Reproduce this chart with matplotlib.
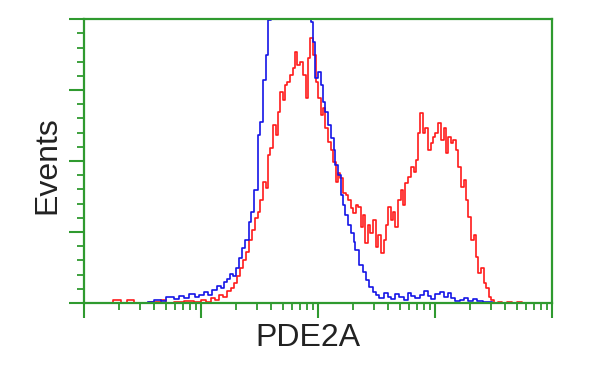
#!/usr/bin/env python
"""Flow cytometry overlay histogram: PDE2A (red) vs isotype/control (blue)."""
import numpy as np
import matplotlib
matplotlib.use("Agg")
import matplotlib.pyplot as plt
from matplotlib.ticker import MultipleLocator, LogLocator, NullFormatter

# histogram channels on a 256-channel, 4-decade log scale (64 channels / decade)
blue_ch = [35, 41, 43, 47, 51, 53, 56, 59, 62, 64, 67, 69, 71, 74, 76, 77, 79, 81, 82,
           84, 86, 87, 89, 91, 92, 94, 96, 97, 99, 100, 101, 103, 105, 107, 109, 112,
           114, 116, 118, 120, 123, 125, 126, 127, 129, 130, 131, 133, 134, 136, 137,
           138, 140, 141, 142, 144, 145, 147, 148, 149, 152, 153, 155, 157, 159, 160,
           163, 165, 167, 169, 171, 174, 176, 178, 180, 182, 185, 187, 189, 191, 193,
           196, 198, 200, 202, 204, 207, 209, 211, 214, 216, 220, 223]
blue_cnt = [0.4, 1.0, 0.7, 2.1, 1.4, 2.5, 1.8, 3.2, 2.1, 2.8, 3.9, 2.8, 4.6, 6.0, 5.3,
            7.4, 8.5, 10.2, 9.5, 12.3, 15.8, 19.4, 22.2, 28.5, 32.0, 39.8, 59.2, 63.7,
            78.5, 87.3, 99.6, 108, 115, 112, 120, 118, 124, 119, 116, 121, 110, 99.0,
            91.9, 79.2, 81.3, 76.8, 70.8, 67.3, 62.7, 58.1, 53.9, 48.6, 45.1, 38.0,
            34.5, 31.0, 27.5, 24.6, 21.5, 18.7, 13.4, 10.9, 8.1, 5.6, 3.9, 2.8, 1.8,
            3.5, 2.1, 1.4, 3.2, 2.1, 1.1, 3.5, 2.5, 1.8, 2.8, 4.2, 2.5, 1.4, 3.2, 3.9,
            2.1, 3.5, 1.8, 0.7, 1.0, 1.8, 0.7, 1.4, 0.7, 0.4, 0.4]

red_ch = [13.2, 18.7, 21.4, 25.8, 28.6, 40.7, 43.4, 46.1, 51.6, 57.1, 62.6, 65.4, 68.1,
          70.3, 72.5, 74.7, 76.9, 79.1, 81.3, 83.0, 84.6, 86.3, 87.9, 89.6, 91.2, 92.8,
          94.5, 95.6, 97.2, 98.9, 100.0, 101.1, 102.7, 104.4, 105.5, 106.6, 108.2,
          109.3, 110.4, 112.1, 113.7, 114.8, 115.9, 117.6, 119.2, 120.9, 122.0, 123.1,
          124.2, 125.8, 127.5, 128.6, 130.2, 131.3, 132.4, 134.1, 135.7, 136.8, 138.4,
          139.5, 140.6, 142.3, 143.9, 145.0, 146.7, 147.8, 149.4, 150.5, 152.2, 153.3,
          154.4, 156.0, 157.1, 158.8, 160.4, 161.5, 163.2, 164.8, 165.9, 167.0, 168.7,
          169.8, 170.9, 172.5, 174.2, 175.3, 176.4, 178.0, 179.7, 180.8, 181.9, 183.5,
          184.6, 186.2, 187.3, 189.0, 190.6, 191.7, 192.8, 194.5, 196.1, 197.2, 198.3,
          200.0, 201.1, 202.7, 203.8, 205.5, 207.1, 208.2, 209.3, 211.0, 212.6, 213.7,
          214.8, 216.5, 218.1, 219.2, 220.9, 222.0, 223.6, 225.3, 227.5, 230.2, 232.9,
          235.7, 238.4, 241.2]
red_cnt = [0.0, 1.1, 0.0, 1.1, 0.0, 0.4, 1.1, 0.0, 0.4, 0.7, 0.4, 1.1, 0.4, 1.8, 1.1,
           2.8, 2.1, 4.2, 5.3, 7.0, 9.5, 12.3, 15.1, 18.0, 22.2, 25.7, 29.9, 32.0, 36.3,
           42.6, 40.5, 52.1, 54.6, 62.7, 59.2, 67.3, 74.3, 71.5, 76.8, 77.8, 80.3, 82.7,
           88.4, 83.8, 84.9, 80.3, 72.2, 86.3, 93.3, 87.3, 77.8, 72.2, 66.2, 68.7, 61.6,
           56.7, 53.9, 49.6, 42.6, 45.8, 44.0, 38.7, 38.0, 36.3, 33.5, 31.7, 34.5, 33.8,
           26.8, 31.0, 21.1, 27.5, 24.6, 29.2, 19.7, 23.9, 17.6, 22.2, 27.5, 33.8, 29.2,
           32.0, 26.8, 36.3, 39.8, 34.5, 42.3, 44.4, 47.9, 46.1, 50.4, 59.9, 66.9, 59.9,
           61.6, 53.9, 56.3, 58.5, 59.9, 63.4, 57.4, 61.6, 52.8, 58.5, 56.3, 57.4, 53.9,
           47.9, 40.8, 43.3, 36.3, 30.3, 22.2, 23.9, 16.2, 10.6, 12.3, 7.0, 5.3, 2.1,
           1.1, 0.0, 0.4, 0.0, 0.4, 0.0, 0.4, 0.0]

GREEN = "#2f9a2f"


def ch_to_fl(ch):
    return 10 ** (np.asarray(ch, dtype=float) / 64.0)


fig = plt.figure(figsize=(6.0, 3.75), dpi=100)
ax = fig.add_axes([0.14, 0.192, 0.78, 0.757])

ax.plot(ch_to_fl(red_ch), red_cnt, drawstyle="steps-mid", color="#ff1a1a", lw=1.2)
ax.plot(ch_to_fl(blue_ch), blue_cnt, drawstyle="steps-mid", color="#1414e6", lw=1.2)

ax.set_xscale("log")
ax.set_xlim(1, 1e4)
ax.set_ylim(0, 100)

ax.xaxis.set_major_locator(LogLocator(base=10, numticks=10))
ax.xaxis.set_minor_locator(LogLocator(base=10, subs=np.arange(2, 10), numticks=10))
ax.yaxis.set_major_locator(MultipleLocator(25))
ax.yaxis.set_minor_locator(MultipleLocator(5))
for axis in (ax.xaxis, ax.yaxis):
    axis.set_major_formatter(NullFormatter())
    axis.set_minor_formatter(NullFormatter())

for s in ax.spines.values():
    s.set_color(GREEN)
    s.set_linewidth(1.6)
ax.tick_params(which="major", direction="out", length=11, width=1.5, color=GREEN,
               top=False, right=False)
ax.tick_params(which="minor", direction="out", length=5, width=1.3, color=GREEN,
               top=False, right=False)

font = ["Liberation Sans", "DejaVu Sans"]
ax.set_xlabel("PDE2A", fontsize=23, family=font, color="#222222")
ax.xaxis.set_label_coords(0.479, -0.07)
ax.set_ylabel("Events", fontsize=23, family=font, color="#222222")
ax.yaxis.set_label_coords(-0.047, 0.486)

fig.savefig("out.png", dpi=100)
